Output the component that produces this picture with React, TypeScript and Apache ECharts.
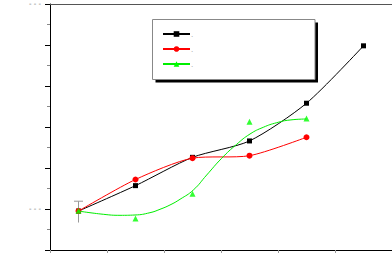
import React, { useEffect, useRef } from "react";
import * as echarts from "echarts";

// x positions of the six measurement points
const xPositions = [0.5, 1.5, 2.5, 3.5, 4.5, 5.5];
const seriesNames = ["S1", "S2", "S3"];
// black squares
const seriesA = [0.95, 1.57, 2.26, 2.66, 3.58, 4.98];
// red circles
const seriesB = [0.95, 1.72, 2.24, 2.3, 2.75];
// green triangles
const seriesC = [0.96, 0.77, 1.37, 3.13, 3.21];
// green fitted curve
const fitCX = [0.5, 0.935, 1.228, 1.491, 1.754, 1.93, 2.105, 2.281, 2.514, 2.749, 3.012, 3.275, 3.509, 3.742, 3.977, 4.211, 4.5];
const fitCY = [0.95, 0.871, 0.846, 0.854, 0.91, 0.993, 1.098, 1.237, 1.463, 1.829, 2.237, 2.578, 2.829, 2.993, 3.105, 3.171, 3.195];
// error bar on first point: [x, low, high]
const errorBars = [[0.5, 0.67, 1.19]];
const yLabelValues = [1, 6];
const yLabelText = "- - -";
const legendText = ".";

export default function App() {
  const ref = useRef<HTMLDivElement>(null);
  useEffect(() => {
    if (!ref.current) return;
    const chart = echarts.init(ref.current, undefined, { renderer: "svg" });
    const zip = (xs: number[], ys: number[]) => ys.map((y, i) => [xs[i], y]);
    chart.setOption({
      animation: false,
      backgroundColor: "#ffffff",
      grid: { left: 50, right: 0, top: 4, bottom: 5, containLabel: false },
      legend: {
        data: seriesNames,
        orient: "vertical",
        left: 162,
        top: 30,
        padding: 0,
        itemWidth: 27,
        itemHeight: 7,
        itemGap: 7,
        formatter: () => legendText,
        textStyle: { fontSize: 8, color: "#999", padding: [2, 0, 0, -4] },
        z: 10,
      },
      graphic: [
        { type: "rect", z: 5, shape: { x: 155.5, y: 22.5, width: 162.5, height: 60 }, style: { fill: "#000" } },
        { type: "rect", z: 6, shape: { x: 152.5, y: 19.5, width: 162.5, height: 60 }, style: { fill: "#fff", stroke: "#888", lineWidth: 1 } },
      ],
      xAxis: [
        {
          type: "value",
          min: 0,
          max: 6,
          interval: 1,
          axisLine: { onZero: false, lineStyle: { color: "#000", width: 1 } },
          axisTick: { length: 3, lineStyle: { color: "#999" } },
          axisLabel: { show: false },
          splitLine: { show: false },
        },
        {
          type: "value",
          position: "top",
          min: 0,
          max: 6,
          interval: 1,
          axisLine: { onZero: false, lineStyle: { color: "#555", width: 1 } },
          axisTick: { show: false },
          axisLabel: { show: false },
          splitLine: { show: false },
        },
        {
          type: "category",
          position: "bottom",
          data: xPositions.map((x) => String(x)),
          boundaryGap: true,
          axisLine: { show: false, onZero: false },
          axisTick: { alignWithLabel: true, interval: 0, length: 5, lineStyle: { color: "#333" } },
          axisLabel: { show: false, interval: 0 },
          splitLine: { show: false },
        },
      ],
      yAxis: {
        type: "value",
        min: 0,
        max: 6,
        interval: 1,
        axisLine: { show: true, onZero: false, lineStyle: { color: "#000", width: 1 } },
        axisTick: { show: true, length: 5, lineStyle: { color: "#000" } },
        minorTick: { show: true, splitNumber: 2, length: 3, lineStyle: { color: "#888" } },
        splitLine: { show: false },
        axisLabel: {
          margin: 9,
          fontSize: 7,
          color: "#666",
          fontFamily: "DejaVu Sans",
          formatter: (v: number) => (yLabelValues.includes(v) ? yLabelText : ""),
        },
      },
      series: [
        {
          name: seriesNames[0],
          type: "line",
          xAxisIndex: 0,
          data: zip(xPositions, seriesA),
          smooth: 0.25,
          symbol: "rect",
          symbolSize: 5,
          itemStyle: { color: "#000" },
          lineStyle: { color: "#000", width: 1 },
          z: 3,
        },
        {
          name: seriesNames[1],
          type: "line",
          xAxisIndex: 0,
          data: zip(xPositions, seriesB),
          smooth: 0.25,
          symbol: "circle",
          symbolSize: 6,
          itemStyle: { color: "#ff0000" },
          lineStyle: { color: "#ff0000", width: 1 },
          z: 4,
        },
        {
          name: seriesNames[2],
          type: "line",
          xAxisIndex: 0,
          data: zip(fitCX, fitCY),
          smooth: true,
          symbol: "triangle",
          showSymbol: false,
          itemStyle: { color: "#00ff00" },
          lineStyle: { color: "#00ee00", width: 1 },
          z: 5,
        },
        {
          name: "S3 points",
          type: "scatter",
          xAxisIndex: 0,
          data: zip(xPositions, seriesC),
          symbol: "triangle",
          symbolSize: 6,
          itemStyle: { color: "#00ff00" },
          z: 6,
        },
        {
          name: "error",
          type: "custom",
          xAxisIndex: 0,
          data: errorBars,
          z: 2,
          renderItem: (params: any, api: any) => {
            const x = api.value(0);
            const top = api.coord([x, api.value(2)]);
            const bot = api.coord([x, api.value(1)]);
            const style = { stroke: "#999", lineWidth: 1 };
            return {
              type: "group",
              children: [
                { type: "line", shape: { x1: top[0], y1: top[1], x2: bot[0], y2: bot[1] }, style },
                { type: "line", shape: { x1: top[0] - 4.5, y1: top[1], x2: top[0] + 4.5, y2: top[1] }, style },
              ],
            };
          },
        },
      ],
    });
    return () => chart.dispose();
  }, []);
  return (
    <div
      ref={ref}
      style={{ position: "fixed", left: 0, top: 0, width: 392, height: 255, background: "#fff" }}
    />
  );
}
